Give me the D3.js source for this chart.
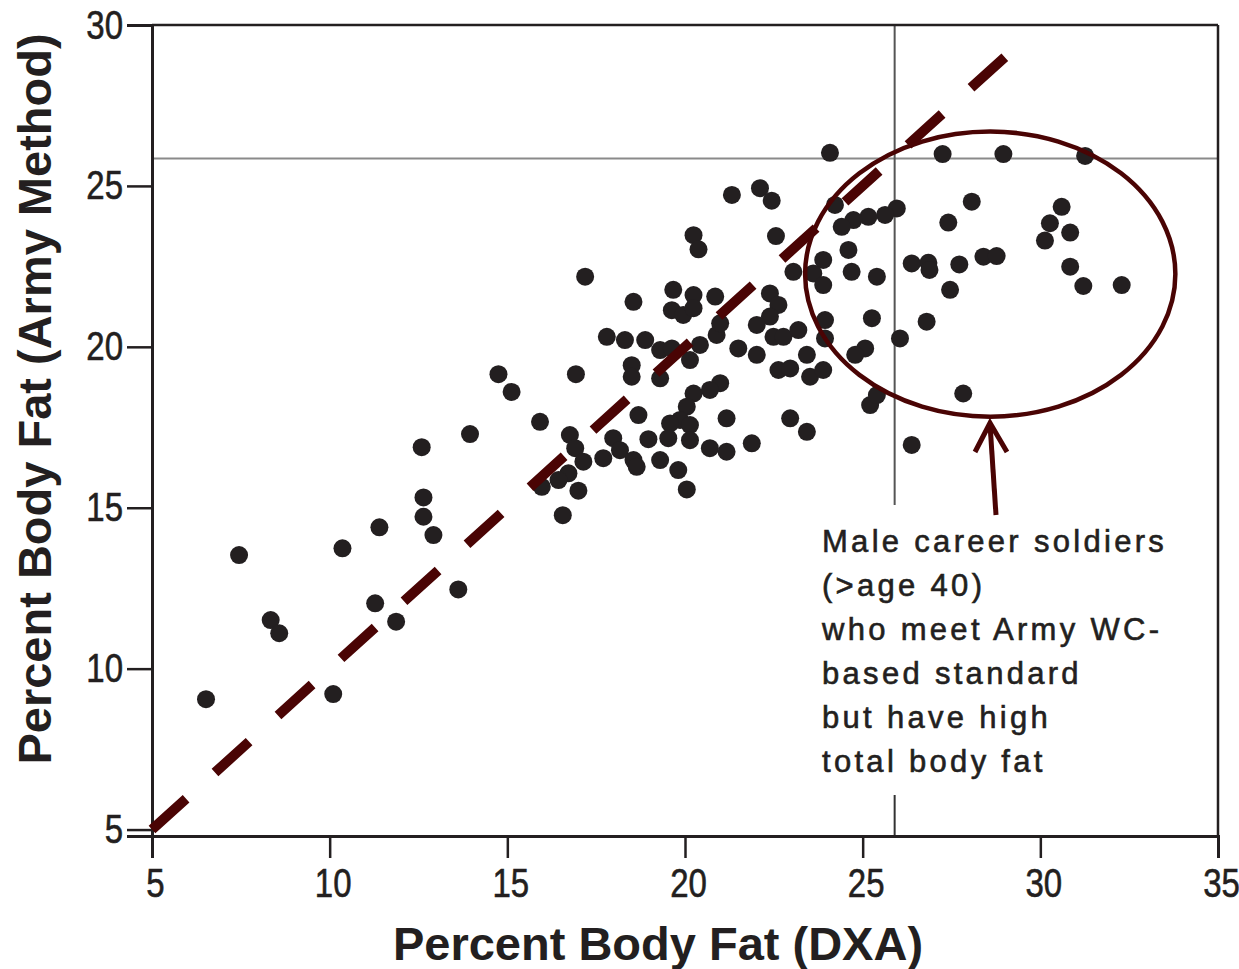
<!DOCTYPE html>
<html>
<head>
<meta charset="utf-8">
<script src="https://cdn.jsdelivr.net/npm/d3@7/dist/d3.min.js"></script>
<style>
  html, body { margin: 0; padding: 0; background: #fff; }
  svg { display: block; }
  text { font-family: "Liberation Sans", Arial, sans-serif; fill: #231f20; }
</style>
</head>
<body>
<svg id="chart" width="1239" height="969"></svg>
<script>
// ---- data ----
const dxa = [
  13.95,12.59,12.64,12.64,12.92,11.40,10.36,7.45,8.34,8.58,11.28,11.87,13.62,6.52,10.10,
  17.19,18.55,19.67,20.24,20.85,19.63,19.95,20.24,20.24,20.38,21.32,22.11,22.44,22.56,22.39,
  22.63,22.39,22.02,22.49,22.77,23.19,17.80,18.31,18.88,19.30,19.63,20.42,20.89,20.99,20.14,
  18.50,18.50,19.30,21.50,22.02,22.63,22.96,23.43,23.52,14.75,15.12,16.93,20.99,20.70,20.24,
  20.05,19.86,19.58,20.14,19.53,20.14,18.69,21.17,22.96,23.43,21.88,20.70,21.17,18.97,17.98,
  18.17,17.70,18.55,18.64,19.30,19.81,20.05,15.92,16.76,16.91,17.14,16.72,16.44,15.97,17.00,
  16.56,24.08,27.25,28.96,31.26,28.07,27.41,30.60,30.27,30.84,30.13,30.84,31.21,32.29,26.38,
  26.85,26.88,27.72,28.40,28.77,27.46,26.80,26.05,27.83,26.38,25.96,25.63,25.16,24.74,24.41,
  24.22,24.60,23.89,24.69,25.40,23.05,23.61,23.89,25.26,23.94,23.94,25.07,24.79,23.89,25.21,
  25.40
];
const army = [
  17.29,16.88,15.32,14.72,14.15,14.39,13.74,13.53,11.51,11.10,12.03,11.46,12.46,9.05,9.21,
  22.18,21.40,21.77,21.61,21.56,21.14,20.99,21.20,23.47,23.03,24.72,24.93,24.54,23.44,21.66,
  21.30,20.94,20.68,20.31,20.31,20.52,20.31,20.21,20.21,19.90,19.95,20.06,20.37,20.73,19.59,
  19.43,19.07,19.02,19.95,19.75,19.28,19.33,19.75,19.07,19.15,18.60,19.15,18.87,18.66,18.55,
  18.14,17.73,17.62,17.57,17.16,17.10,17.88,17.78,17.78,17.36,17.00,16.85,16.74,17.13,17.16,
  16.79,16.54,16.48,16.27,16.48,16.17,15.57,17.67,17.26,16.85,16.43,16.07,15.86,15.65,15.53,
  14.77,26.03,25.99,25.99,25.93,24.51,23.86,24.35,23.84,23.55,23.30,22.49,21.89,21.92,22.59,
  22.61,22.39,22.56,22.80,22.82,21.77,20.78,20.26,18.55,16.95,24.30,24.10,24.04,23.94,23.73,
  24.41,23.01,22.70,22.33,22.18,22.33,22.28,21.92,20.89,20.83,20.26,19.95,19.75,19.28,18.19,
  18.50
];
const xTicks = [5, 10, 15, 20, 25, 30, 35];
const yTicks = [5, 10, 15, 20, 25, 30];
const xTitle = "Percent Body Fat (DXA)";
const yTitle = "Percent Body Fat (Army Method)";
const armyStandard = 25.85;   // horizontal reference line
const dxaCutoff = 25.9;       // vertical reference line
const identity = [5, 29];     // dashed line of identity
const noteLines = ["Male career soldiers", "(>age 40)", "who meet Army WC-", "based standard", "but have high", "total body fat"];

// ---- layout ----
const svg = d3.select("#chart");
const x = d3.scaleLinear().domain([5, 35]).range([152, 1218]);
const y = d3.scaleLinear().domain([4.8, 30]).range([836, 25]);
const points = dxa.map((d, i) => ({ x: d, y: army[i] }));
const maroon = "#4a0404";
const ink = "#231f20";

// reference lines
svg.append("line")
  .attr("x1", x(5)).attr("x2", x(35))
  .attr("y1", y(armyStandard)).attr("y2", y(armyStandard))
  .attr("stroke", "#8a8a8a").attr("stroke-width", 2);
svg.append("line")
  .attr("x1", x(dxaCutoff)).attr("x2", x(dxaCutoff))
  .attr("y1", y(30)).attr("y2", 505)
  .attr("stroke", "#555").attr("stroke-width", 2);
svg.append("line")
  .attr("x1", x(dxaCutoff)).attr("x2", x(dxaCutoff))
  .attr("y1", 795).attr("y2", y(4.8))
  .attr("stroke", "#333").attr("stroke-width", 2);

// frame top/right
svg.append("line").attr("x1", x(5)).attr("x2", x(35)).attr("y1", y(30)).attr("y2", y(30))
  .attr("stroke", ink).attr("stroke-width", 2.5);
svg.append("line").attr("x1", x(35)).attr("x2", x(35)).attr("y1", y(30)).attr("y2", y(4.8))
  .attr("stroke", ink).attr("stroke-width", 2.5);

// axes
const xAxis = svg.append("g").attr("transform", `translate(0,${y(4.8)})`)
  .call(d3.axisBottom(x).tickValues(xTicks).tickSize(22).tickFormat(d3.format("d")));
const yAxis = svg.append("g").attr("transform", `translate(${x(5)},0)`)
  .call(d3.axisLeft(y).tickValues(yTicks).tickSize(25).tickFormat(d3.format("d")));
[xAxis, yAxis].forEach(g => {
  g.select(".domain").attr("stroke", ink).attr("stroke-width", 3);
  g.selectAll(".tick line").attr("stroke", ink).attr("stroke-width", 2.5);
  g.selectAll(".tick text").remove();
});
// tick labels: slightly condensed, tall digits like the reference
xAxis.selectAll(".tick").append("text")
  .attr("transform", "translate(3,61) scale(1,1.22)")
  .attr("text-anchor", "middle").attr("font-size", 33)
  .attr("fill", ink).attr("stroke", ink).attr("stroke-width", 0.5)
  .style("font-family", '"Liberation Sans", Arial, sans-serif')
  .text(d => d);
yAxis.selectAll(".tick").append("text")
  .attr("transform", "translate(-29,13) scale(1,1.22)")
  .attr("text-anchor", "end").attr("font-size", 33)
  .attr("fill", ink).attr("stroke", ink).attr("stroke-width", 0.5)
  .style("font-family", '"Liberation Sans", Arial, sans-serif')
  .text(d => d);

// points
svg.append("g").selectAll("circle").data(points).join("circle")
  .attr("cx", d => x(d.x)).attr("cy", d => y(d.y)).attr("r", 9)
  .attr("fill", ink);

// identity dashed line
svg.append("line")
  .attr("x1", x(identity[0])).attr("y1", y(identity[0]))
  .attr("x2", x(identity[1])).attr("y2", y(identity[1]))
  .attr("stroke", maroon).attr("stroke-width", 10)
  .attr("stroke-dasharray", "46,39");

// ellipse annotation
svg.append("ellipse")
  .attr("cx", x(28.59)).attr("cy", y(22.26))
  .attr("rx", x(28.59 + 5.21) - x(28.59)).attr("ry", y(22.26 - 4.43) - y(22.26))
  .attr("fill", "none").attr("stroke", maroon).attr("stroke-width", 4.5);

// arrow
svg.append("line").attr("x1", 996).attr("y1", 515).attr("x2", 990).attr("y2", 424)
  .attr("stroke", maroon).attr("stroke-width", 5);
svg.append("path").attr("d", "M975,452 L990,423 L1007,452")
  .attr("fill", "none").attr("stroke", maroon).attr("stroke-width", 5);

// note text
svg.append("g").selectAll("text").data(noteLines).join("text")
  .attr("x", 822).attr("y", (d, i) => 552 + i * 44)
  .attr("font-size", 31).attr("letter-spacing", 3.3)
  .attr("stroke", ink).attr("stroke-width", 0.6)
  .text(d => d);

// titles
svg.append("text").attr("x", 658).attr("y", 960).attr("text-anchor", "middle")
  .attr("font-size", 47).attr("font-weight", "bold").text(xTitle);
svg.append("text").attr("transform", "translate(51,399) rotate(-90)").attr("text-anchor", "middle")
  .attr("font-size", 47).attr("font-weight", "bold").text(yTitle);
</script>
</body>
</html>
